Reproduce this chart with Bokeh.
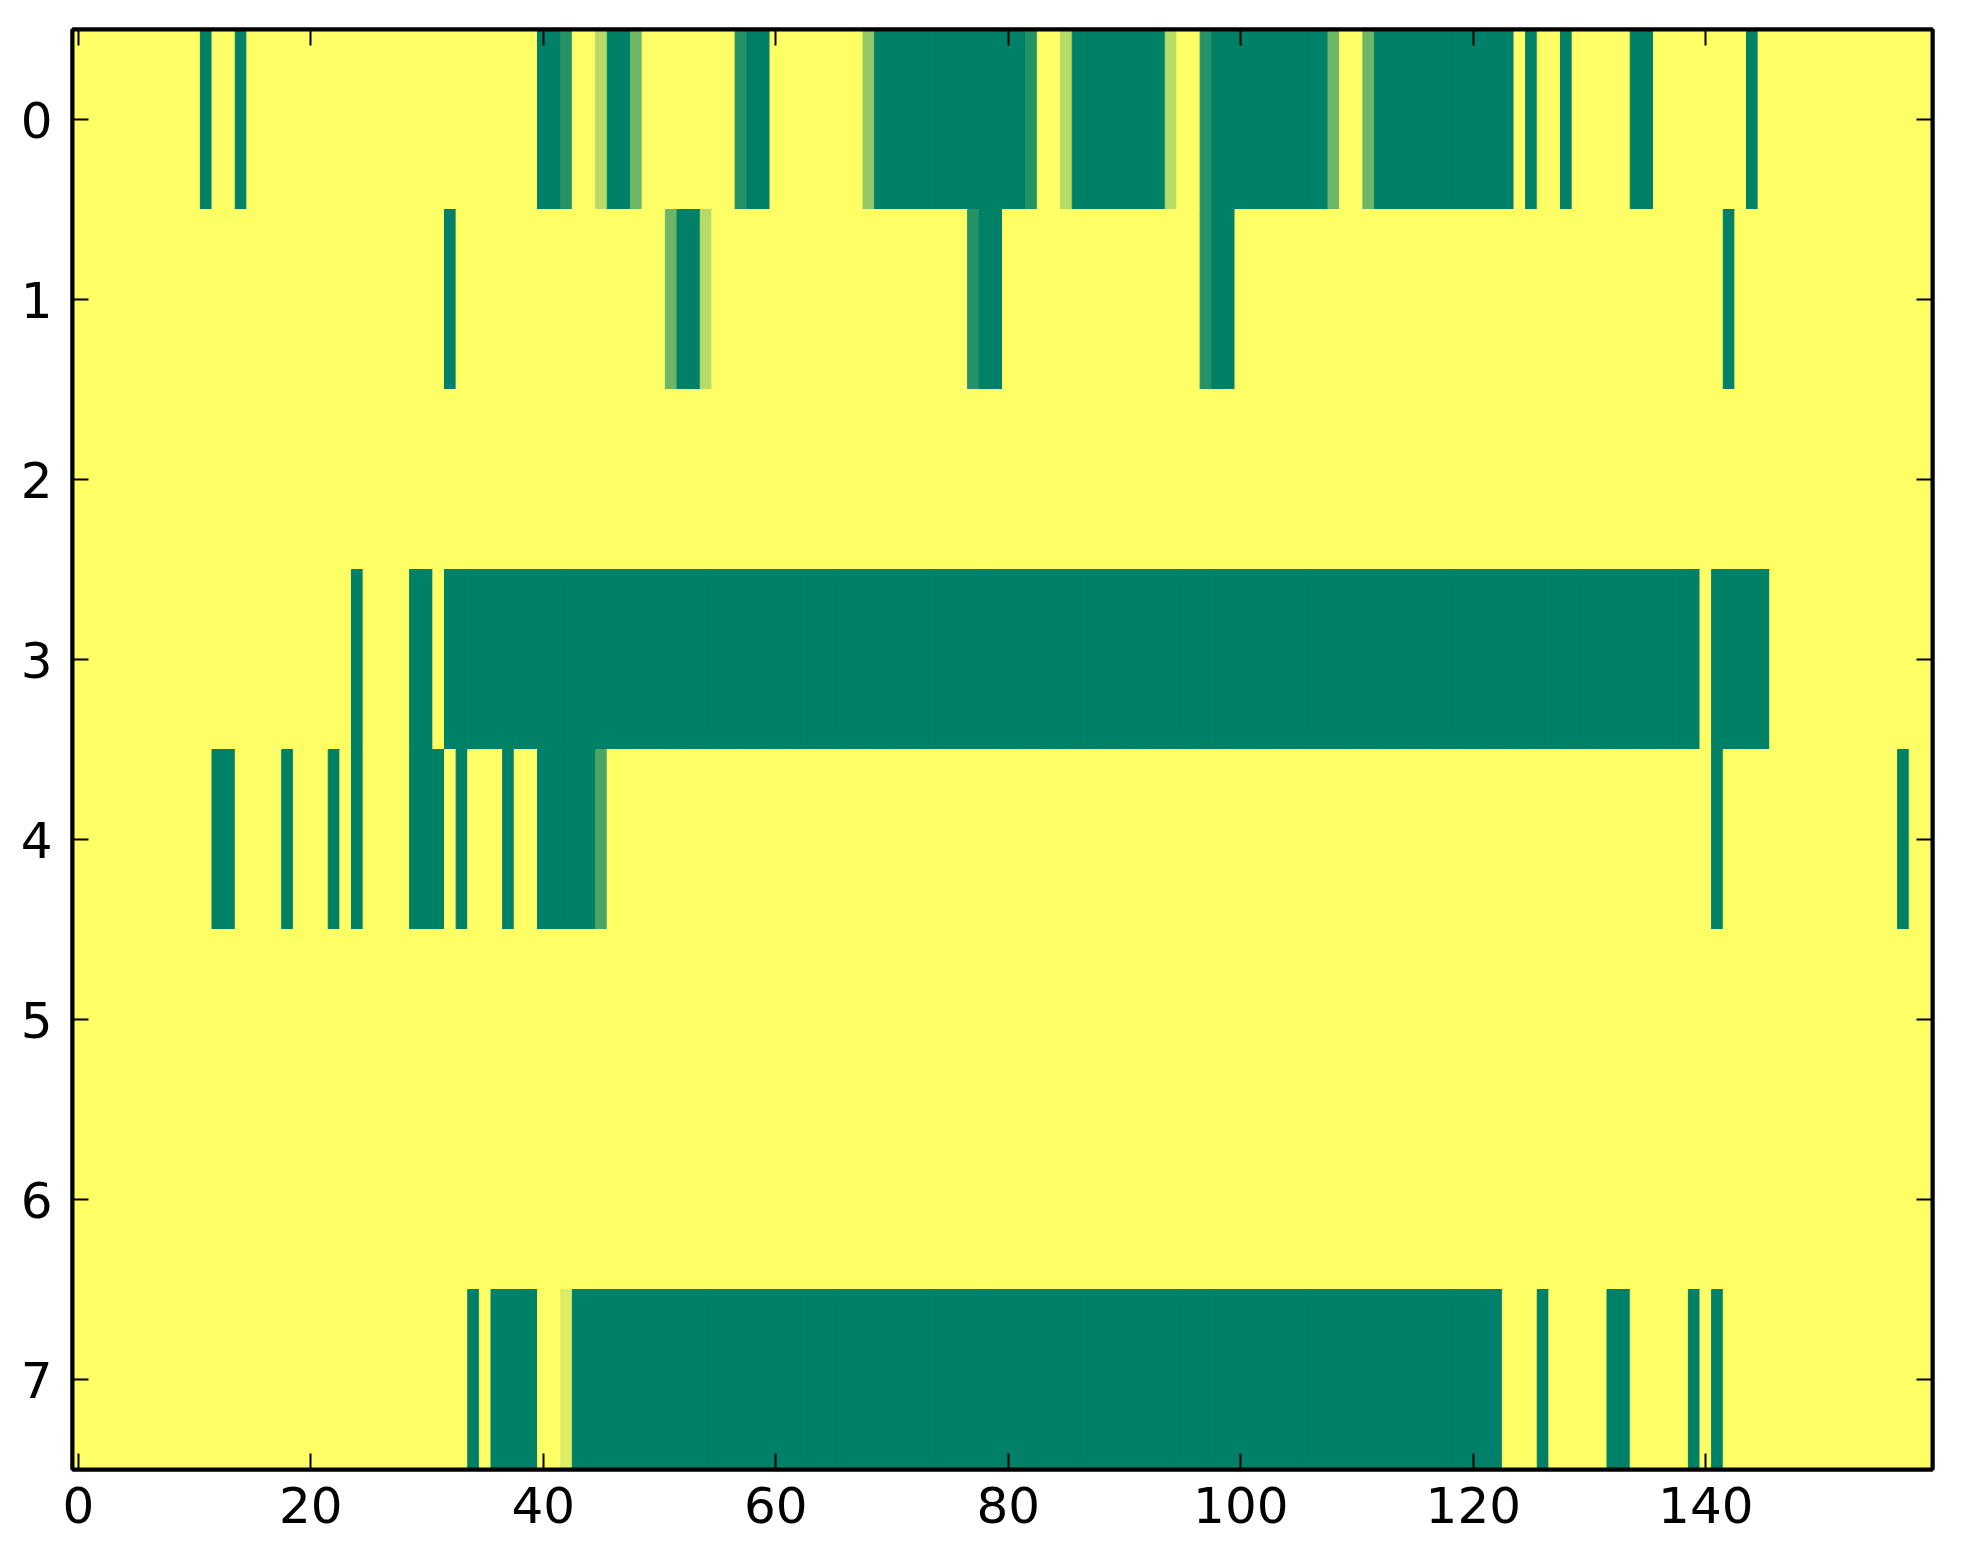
"""Heatmap of 8 channels x 160 samples, matplotlib-classic look (summer_r)."""

import numpy as np
from bokeh.embed import file_html
from bokeh.models import (ColumnDataSource, CustomJSTickFormatter, FixedTicker,
                          LinearAxis, LinearColorMapper, Range1d)
from bokeh.plotting import figure
from bokeh.resources import INLINE
from bokeh.transform import transform

# each row: 160 cells, level in sevenths (0 = yellow, 7 = dark green),
# written in blocks of ten columns
ROW_0 = ("0000000000 0700700000 0000000000 0000000000 7760027740 0000000677 "
         "0000000037 7777777777 7760027777 7777200677 7777777740 0477777777 "
         "7777070070 0000770000 0000700000 0000000000")
ROW_1 = ("0000000000 0000000000 0000000000 0070000000 0000000000 0477200000 "
         "0000000000 0000000677 0000000000 0000000677 0000000000 0000000000 "
         "0000000000 0000000000 0070000000 0000000000")
ROW_2 = ("0000000000 0000000000 0000000000 0000000000 0000000000 0000000000 "
         "0000000000 0000000000 0000000000 0000000000 0000000000 0000000000 "
         "0000000000 0000000000 0000000000 0000000000")
ROW_3 = ("0000000000 0000000000 0000700007 7077777777 7777777777 7777777777 "
         "7777777777 7777777777 7777777777 7777777777 7777777777 7777777777 "
         "7777777777 7777777777 0777770000 0000000000")
ROW_4 = ("0000000000 0077000070 0070700007 7707000700 7777750000 0000000000 "
         "0000000000 0000000000 0000000000 0000000000 0000000000 0000000000 "
         "0000000000 0000000000 0700000000 0000000700")
ROW_5 = ROW_2
ROW_6 = ROW_2
ROW_7 = ("0000000000 0000000000 0000000000 0000707777 0017777777 7777777777 "
         "7777777777 7777777777 7777777777 7777777777 7777777777 7777777777 "
         "7770007000 0077000007 0700000000 0000000000")

ROWS = [ROW_0, ROW_1, ROW_2, ROW_3, ROW_4, ROW_5, ROW_6, ROW_7]
X_TICKS = [0, 20, 40, 60, 80, 100, 120, 140]
Y_TICKS = [0, 1, 2, 3, 4, 5, 6, 7]

# matplotlib summer_r sampled at the 8 levels
LEVELS = 8
PALETTE = []
for k in range(LEVELS):
    v = k / (LEVELS - 1)
    r, g, b = 1 - v, 1 - 0.5 * v, 0.4
    PALETTE.append("#%02x%02x%02x" % (round(r * 255), round(g * 255), round(b * 255)))

grid = np.array([[int(c) for c in row.replace(" ", "")] for row in ROWS]) / 7.0
n_rows, n_cols = grid.shape
yy, xx = np.mgrid[0:n_rows, 0:n_cols]
source = ColumnDataSource(dict(x=xx.ravel(), y=yy.ravel(), v=grid.ravel()))

mapper = LinearColorMapper(palette=PALETTE, low=0, high=1)

FONT = "DejaVu Sans"
p = figure(
    frame_width=1860, frame_height=1440,
    min_border_left=72, min_border_top=29, min_border_right=15, min_border_bottom=80,
    x_range=Range1d(-0.5, n_cols - 0.5), y_range=Range1d(n_rows - 0.5, -0.5),
    x_axis_location="below", y_axis_location="left",
    toolbar_location=None, output_backend="svg",
)
p.grid.visible = False
p.background_fill_color = "white"
p.border_fill_color = "white"
p.outline_line_color = "black"
p.outline_line_width = 4

p.rect(x="x", y="y", width=1, height=1, source=source,
       fill_color=transform("v", mapper), line_color=transform("v", mapper),
       line_width=1)

# matching tick-only axes on top and right, like matplotlib's classic style
p.add_layout(LinearAxis(), "above")
p.add_layout(LinearAxis(), "right")

blank = CustomJSTickFormatter(code="return ''")
for ax in p.xaxis:
    ax.ticker = FixedTicker(ticks=X_TICKS)
for ax in p.yaxis:
    ax.ticker = FixedTicker(ticks=Y_TICKS)
for ax in list(p.xaxis) + list(p.yaxis):
    # axis lines sit above the cells, so the frame reads as a solid box
    ax.axis_line_color = "black"
    ax.axis_line_width = 4
    ax.major_tick_in = 16
    ax.major_tick_out = 0
    ax.major_tick_line_width = 2
    ax.major_tick_line_color = "black"
    ax.minor_tick_line_color = None
    ax.major_label_text_font = FONT
    ax.major_label_text_font_size = "50px"
    ax.major_label_text_color = "black"

p.above[0].formatter = blank
p.above[0].major_label_text_font_size = "0px"
p.above[0].major_label_standoff = 0
p.right[0].formatter = blank
p.right[0].major_label_text_font_size = "0px"
p.right[0].major_label_standoff = 0
p.below[0].major_label_standoff = 17
p.left[0].major_label_standoff = 20

open("out.html", "w").write(file_html(p, INLINE))
